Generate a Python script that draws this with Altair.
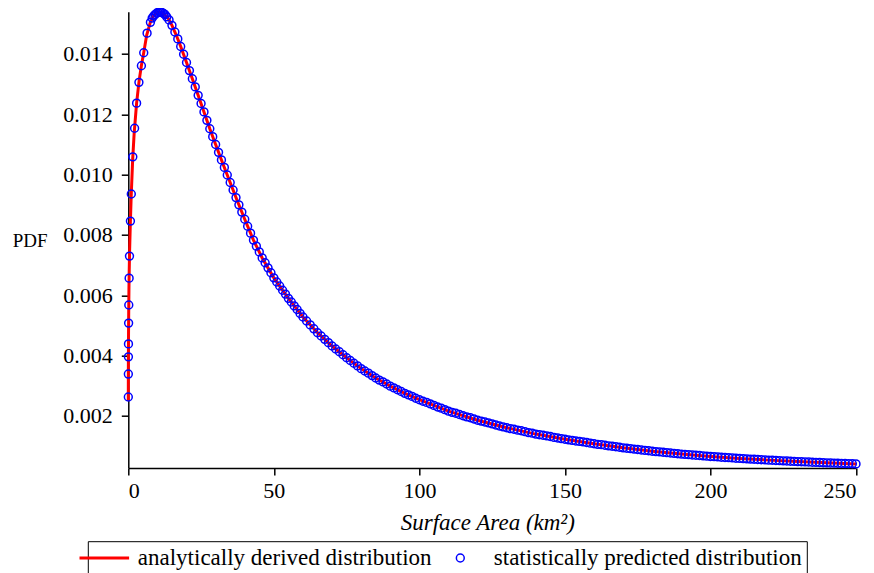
import altair as alt
import pandas as pd

# ---- analytic curve ----
line_x = [0.003, 0.01, 0.02, 0.04, 0.07, 0.1, 0.15, 0.22, 0.32, 0.45, 0.7, 1.0, 1.5, 2.0,
          2.85, 3.7, 4.5, 5.3, 6.3, 7.5, 8.5, 9.5, 10.5, 11.5, 12.5, 13.7, 15.0, 16.5, 18.0,
          20.0, 22.0, 24.0, 26.0, 28.0, 30.0, 32.5, 35.0, 37.5, 40.0, 43.0, 46.0, 50.0, 55.0,
          60.0, 65.0, 70.0, 75.0, 80.0, 85.0, 90.0, 95.0, 100, 110, 120, 130, 140, 150, 160,
          170, 180, 190, 200, 210, 220, 230, 240, 250]
line_y = [0.00250, 0.00300, 0.00345, 0.00400, 0.00455, 0.00500, 0.00555, 0.00620, 0.00685,
          0.00748, 0.00840, 0.00930, 0.01050, 0.01135, 0.01237, 0.01310, 0.01362, 0.01404,
          0.01462, 0.01503, 0.01524, 0.01536, 0.01540, 0.01537, 0.01530, 0.01518, 0.01495,
          0.01462, 0.01425, 0.01372, 0.01318, 0.01263, 0.01208, 0.01152, 0.01100, 0.01036,
          0.00974, 0.00912, 0.00852, 0.00783, 0.00724, 0.00658, 0.00590, 0.00528, 0.00476,
          0.00432, 0.00393, 0.00357, 0.00326, 0.00299, 0.00275, 0.00254, 0.00216, 0.00186,
          0.00161, 0.00140, 0.00123, 0.00108, 0.000945, 0.000832, 0.000738, 0.000659,
          0.000593, 0.000537, 0.000489, 0.000447, 0.000412]

# ---- statistically predicted points ----
circ_x = [0.005, 0.019, 0.039, 0.062, 0.107, 0.165, 0.28, 0.41, 0.73, 1.03, 1.55, 2.16, 2.85,
          3.65, 4.5, 5.3, 6.45, 7.6,
          8.2, 8.7, 9.2, 9.7, 10.2, 10.7, 11.2, 11.7, 12.2, 12.7, 13.2,
          14, 15, 16, 17, 18, 19, 20, 21, 22, 23, 24, 25, 26, 27, 28, 29, 30,
          31, 32, 33, 34, 35, 36, 37, 38, 39, 40,
          41, 42, 43, 44, 45, 46, 47, 48, 49, 50,
          51, 52, 53, 54, 55, 56, 57, 58, 59, 60,
          61.25, 62.5, 63.75, 65, 66.25, 67.5, 68.75, 70, 71.25, 72.5, 73.75, 75,
          76.25, 77.5, 78.75, 80, 81.25, 82.5, 83.75, 85, 86.25, 87.5, 88.75, 90,
          91.25, 92.5, 93.75, 95, 96.25, 97.5, 98.75, 100, 101.25, 102.5, 103.75, 105,
          106.25, 107.5, 108.75, 110, 111.25, 112.5, 113.75, 115, 116.25, 117.5, 118.75, 120,
          121.25, 122.5, 123.75, 125, 126.25, 127.5, 128.75, 130, 131.25, 132.5, 133.75, 135,
          136.25, 137.5, 138.75, 140, 141.25, 142.5, 143.75, 145, 146.25, 147.5, 148.75, 150,
          151.25, 152.5, 153.75, 155, 156.25, 157.5, 158.75, 160, 161.25, 162.5, 163.75, 165,
          166.25, 167.5, 168.75, 170, 171.25, 172.5, 173.75, 175, 176.25, 177.5, 178.75, 180,
          181.25, 182.5, 183.75, 185, 186.25, 187.5, 188.75, 190, 191.25, 192.5, 193.75, 195,
          196.25, 197.5, 198.75, 200, 201.25, 202.5, 203.75, 205, 206.25, 207.5, 208.75, 210,
          211.25, 212.5, 213.75, 215, 216.25, 217.5, 218.75, 220, 221.25, 222.5, 223.75, 225,
          226.25, 227.5, 228.75, 230, 231.25, 232.5, 233.75, 235, 236.25, 237.5, 238.75, 240,
          241.25, 242.5, 243.75, 245, 246.25, 247.5, 248.75, 250]
circ_y = [0.00263, 0.00339, 0.00396, 0.00439, 0.00508, 0.00568, 0.00657, 0.00730, 0.00846,
          0.00936, 0.01059, 0.01154, 0.01237, 0.01306, 0.01361, 0.01404, 0.01469, 0.01505,
          0.01519, 0.01526, 0.01531, 0.01535, 0.01538, 0.01540, 0.01539, 0.01537, 0.01534,
          0.01530, 0.01523,
          0.01513, 0.01495, 0.01473, 0.01450, 0.01425, 0.01399, 0.01372, 0.01345, 0.01318,
          0.01291, 0.01263, 0.01236, 0.01208, 0.01180, 0.01152, 0.01126, 0.01100,
          0.01074, 0.01049, 0.01024, 0.00999, 0.00974, 0.00949, 0.00924, 0.00900, 0.00876, 0.00852,
          0.00829, 0.00806, 0.00783, 0.00763, 0.00744, 0.00724, 0.00708, 0.00691, 0.00675, 0.00658,
          0.00644, 0.00631, 0.00617, 0.00604, 0.00590, 0.00578, 0.00565, 0.00553, 0.00540, 0.00528,
          0.00515, 0.00502, 0.00489, 0.00476, 0.00465, 0.00454, 0.00443, 0.00432,
          0.00422, 0.00413, 0.00403, 0.00393, 0.00384, 0.00375, 0.00366, 0.00357,
          0.00349, 0.00342, 0.00334, 0.00326, 0.00319, 0.00313, 0.00306, 0.00299,
          0.00293, 0.00287, 0.00281, 0.00275, 0.00270, 0.00265, 0.00259, 0.00254,
          0.00249, 0.00245, 0.00240, 0.00235, 0.00230, 0.00226, 0.00221, 0.00216,
          0.00212, 0.00209, 0.00205, 0.00201, 0.00197, 0.00194, 0.00190, 0.00186,
          0.00183, 0.00180, 0.00177, 0.00174, 0.00170, 0.00167, 0.00164, 0.00161,
          0.00158, 0.00156, 0.00153, 0.00151, 0.00148, 0.00145, 0.00143, 0.00140,
          0.00138, 0.00136, 0.00134, 0.00132, 0.00129, 0.00127, 0.00125, 0.00123,
          0.00121, 0.00119, 0.00117, 0.00116, 0.00114, 0.00112, 0.00110, 0.00108,
          0.00106, 0.00105, 0.00103, 0.00101, 0.000996, 0.000979, 0.000962, 0.000945,
          0.000931, 0.000917, 0.000903, 0.000889, 0.000874, 0.000860, 0.000846, 0.000832,
          0.000820, 0.000809, 0.000797, 0.000785, 0.000773, 0.000762, 0.000750, 0.000738,
          0.000728, 0.000718, 0.000708, 0.000699, 0.000689, 0.000679, 0.000669, 0.000659,
          0.000651, 0.000643, 0.000634, 0.000626, 0.000618, 0.000610, 0.000601, 0.000593,
          0.000586, 0.000579, 0.000572, 0.000565, 0.000558, 0.000551, 0.000544, 0.000537,
          0.000531, 0.000525, 0.000519, 0.000513, 0.000507, 0.000501, 0.000495, 0.000489,
          0.000484, 0.000479, 0.000473, 0.000468, 0.000463, 0.000458, 0.000452, 0.000447,
          0.000443, 0.000438, 0.000434, 0.000430, 0.000425, 0.000421, 0.000416, 0.000412]

series_names = ["analytically derived distribution", "statistically predicted distribution"]
legend_shapes = ["M-6.3,0H6.3", "circle"]
x_ticks = [0, 50, 100, 150, 200, 250]
y_ticks = [0.002, 0.004, 0.006, 0.008, 0.010, 0.012, 0.014]

line_df = pd.DataFrame({"x": line_x, "y": line_y, "series": series_names[0]})
pt_df = pd.DataFrame({"x": circ_x, "y": circ_y, "series": series_names[1]})

FONT = "Liberation Serif"

xenc = alt.X("x:Q", scale=alt.Scale(domain=[0, 250], nice=False, zero=False),
             axis=alt.Axis(values=x_ticks, format="d", title="Surface Area (km²)",
                           titleFontStyle="italic", titleFontSize=23, titleFont=FONT,
                           titleFontWeight="normal", titleColor="black",
                           titleX=359, titleY=54, titleAlign="center", titleBaseline="middle",
                           labelPadding=5))
yenc = alt.Y("y:Q", scale=alt.Scale(domain=[0.000276, 0.015402], nice=False, zero=False),
             axis=alt.Axis(values=y_ticks, format=".3f", title="PDF", titleAngle=0,
                           titleFont=FONT, titleFontSize=19, titleFontWeight="normal",
                           titleColor="black", titleX=-116, titleY=228.5,
                           titleAlign="left", titleBaseline="middle", labelPadding=9))

leg = alt.Legend(orient="none", legendX=-40.5, legendY=529.5, direction="horizontal",
                 title=None, labelFont=FONT, labelFontSize=23, labelColor="black",
                 labelLimit=600, strokeColor="black", padding=5, labelOffset=22,
                 columnPadding=17, symbolSize=62)

color = alt.Color("series:N", scale=alt.Scale(domain=series_names, range=["#ff0000", "#0000ff"]),
                  legend=leg)
shape = alt.Shape("series:N", scale=alt.Scale(domain=series_names, range=legend_shapes),
                  legend=leg)
sw = alt.StrokeWidth("series:N", scale=alt.Scale(domain=series_names, range=[3, 1.5]), legend=leg)

line = alt.Chart(line_df).mark_line(strokeWidth=3).encode(x=xenc, y=yenc, color=color)
pts = alt.Chart(pt_df).mark_point(filled=False, opacity=1, size=62).encode(
    x=xenc, y=yenc, color=color, shape=shape, strokeWidth=sw)

chart = (
    alt.layer(line, pts)
    .properties(width=727.7, height=456.3,
                autosize=alt.AutoSizeParams(type="none"),
                padding={"left": 120.3, "top": 3.7, "right": 10, "bottom": 105})
    .configure_view(strokeWidth=0)
    .configure_axis(grid=False, domainColor="black", domainWidth=1.5, tickColor="black",
                    tickWidth=1.5, tickSize=7, labelFont=FONT, labelFontSize=22,
                    labelColor="black")
)

chart.save("out.html", embed_options={"renderer": "svg", "actions": False})
